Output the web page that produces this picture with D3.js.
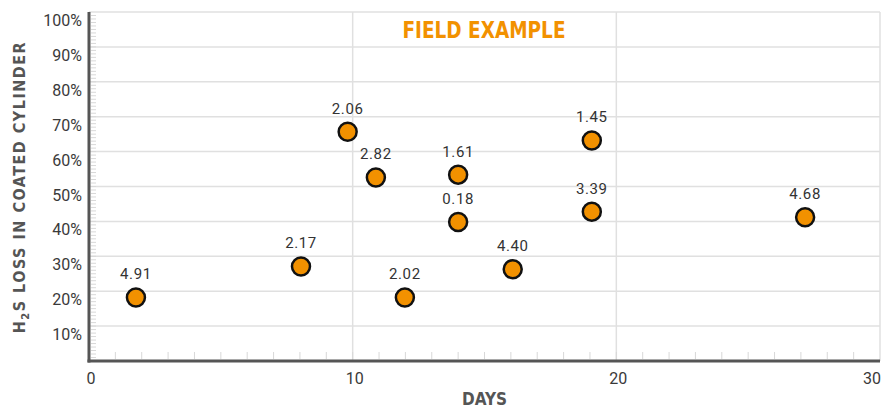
<!DOCTYPE html>
<html>
<head>
<meta charset="utf-8">
<script src="https://cdn.jsdelivr.net/npm/d3@7"></script>
<style>
  html, body { margin: 0; padding: 0; background: #fff; }
  svg { display: block; }
</style>
</head>
<body>
<svg id="chart" width="893" height="409"></svg>
<script>
// ---- data ----
const days = [1.78, 8.04, 9.81, 10.88, 11.98, 14.0, 14.0, 16.07, 19.07, 19.07, 27.16];
const loss = [18.2, 27.1, 65.7, 52.6, 18.2, 53.4, 39.8, 26.3, 63.2, 42.8, 41.2];
const pointLabels = ["4.91", "2.17", "2.06", "2.82", "2.02", "1.61", "0.18", "4.40", "1.45", "3.39", "4.68"];
const xTicks = [0, 10, 20, 30];
const yTicks = [10, 20, 30, 40, 50, 60, 70, 80, 90, 100];
const title = "FIELD EXAMPLE";
const xTitle = "DAYS";

const W = 893, H = 409;
const margin = { top: 12, right: 13, bottom: 48, left: 89 };
const svg = d3.select("#chart");

const x = d3.scaleLinear().domain([0, 30]).range([margin.left, W - margin.right]);
const y = d3.scaleLinear().domain([0, 100]).range([H - margin.bottom, margin.top]);

const orange = "#F29100";
const gridColor = "#e0e0e0";
const axisColor = "#555555";

// gridlines
svg.append("g").selectAll("line.h").data(yTicks).join("line")
  .attr("x1", x(0)).attr("x2", x(30))
  .attr("y1", d => y(d)).attr("y2", d => y(d))
  .attr("stroke", gridColor).attr("stroke-width", 1.5);
svg.append("g").selectAll("line.v").data(xTicks.filter(d => d > 0)).join("line")
  .attr("x1", d => x(d)).attr("x2", d => x(d))
  .attr("y1", y(0)).attr("y2", y(100))
  .attr("stroke", gridColor).attr("stroke-width", 1.5);

// minor ticks
svg.append("g").selectAll("line").data(d3.range(1, 100)).join("line")
  .attr("x1", x(0) + 2).attr("x2", x(0) + 7)
  .attr("y1", d => y(d)).attr("y2", d => y(d))
  .attr("stroke", "#d8d8d8").attr("stroke-width", 1);
svg.append("g").selectAll("line").data(d3.range(1, 30)).join("line")
  .attr("x1", d => x(d)).attr("x2", d => x(d))
  .attr("y1", y(0) - 2).attr("y2", y(0) - 9)
  .attr("stroke", "#d8d8d8").attr("stroke-width", 1);

// axes lines
svg.append("line").attr("x1", x(0)).attr("x2", x(0)).attr("y1", y(100)).attr("y2", y(0) + 1.5)
  .attr("stroke", axisColor).attr("stroke-width", 3);
svg.append("line").attr("x1", x(0) - 1.5).attr("x2", x(30)).attr("y1", y(0)).attr("y2", y(0))
  .attr("stroke", axisColor).attr("stroke-width", 3);

// y tick labels
svg.append("g").selectAll("text").data(yTicks).join("text")
  .attr("x", 82).attr("y", d => y(d) + 14)
  .attr("text-anchor", "end")
  .attr("font-family", "Roboto, sans-serif").attr("font-weight", 400)
  .attr("font-size", 16).attr("fill", "#3a3a3a")
  .text(d => d + "%");

// x tick labels
svg.append("g").selectAll("text").data(xTicks).join("text")
  .attr("x", d => d === 30 ? x(d) + 1 : x(d) + 2)
  .attr("y", 384)
  .attr("text-anchor", d => d === 30 ? "end" : "middle")
  .attr("font-family", "Roboto, sans-serif").attr("font-weight", 400)
  .attr("font-size", 16).attr("fill", "#3a3a3a")
  .text(d => d);

// title
svg.append("text").attr("x", 484).attr("y", 38)
  .attr("text-anchor", "middle")
  .attr("font-family", "'DejaVu Sans Condensed', 'DejaVu Sans', sans-serif")
  .attr("font-stretch", "condensed")
  .attr("font-weight", "bold").attr("font-size", 23)
  .attr("textLength", 163).attr("lengthAdjust", "spacingAndGlyphs")
  .attr("fill", orange).text(title);

// x axis title
svg.append("text").attr("x", 484.5).attr("y", 405)
  .attr("text-anchor", "middle")
  .attr("font-family", "'DejaVu Sans Condensed', 'DejaVu Sans', sans-serif")
  .attr("font-stretch", "condensed")
  .attr("font-weight", "bold").attr("font-size", 17)
  .attr("textLength", 45).attr("lengthAdjust", "spacingAndGlyphs")
  .attr("fill", axisColor).text(xTitle);

// y axis title with subscript
const yt = svg.append("text")
  .attr("transform", "translate(25," + 187 + ") rotate(-90)")
  .attr("text-anchor", "middle")
  .attr("font-family", "'DejaVu Sans Condensed', 'DejaVu Sans', sans-serif")
  .attr("font-stretch", "condensed")
  .attr("font-weight", "bold").attr("font-size", 16)
  .attr("letter-spacing", 1.5)
  .attr("fill", axisColor);
yt.append("tspan").text("H");
yt.append("tspan").attr("font-size", 11).attr("dy", 4).text("2");
yt.append("tspan").attr("dy", -4).text("S LOSS IN COATED CYLINDER");

// points
const pts = days.map((d, i) => ({ d, v: loss[i], label: pointLabels[i] }));
svg.append("g").selectAll("circle").data(pts).join("circle")
  .attr("cx", p => x(p.d)).attr("cy", p => y(p.v)).attr("r", 9)
  .attr("fill", orange).attr("stroke", "#111").attr("stroke-width", 2.5);

svg.append("g").selectAll("text").data(pts).join("text")
  .attr("x", p => x(p.d)).attr("y", p => y(p.v) - 18)
  .attr("text-anchor", "middle")
  .attr("font-family", "Roboto, sans-serif").attr("font-size", 15)
  .attr("letter-spacing", 0.6)
  .attr("fill", "#333").text(p => p.label);
</script>
</body>
</html>
